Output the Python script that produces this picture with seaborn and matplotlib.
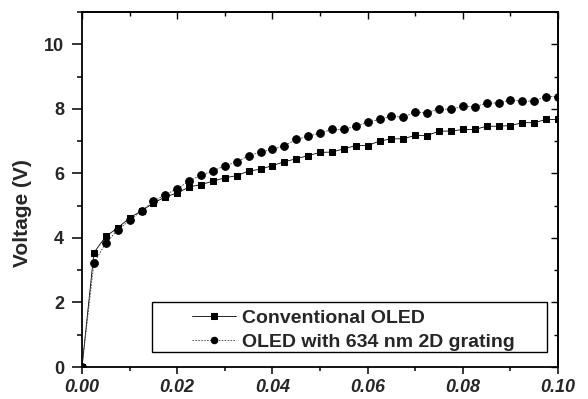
import matplotlib
matplotlib.use("Agg")
import matplotlib.pyplot as plt
import seaborn as sns
import pandas as pd
from matplotlib.ticker import MultipleLocator
from matplotlib.patches import Rectangle

current_density = [0.0, 0.0025, 0.005, 0.0075, 0.01, 0.0125, 0.015, 0.0175, 0.02, 0.0225,
                   0.025, 0.0275, 0.03, 0.0325, 0.035, 0.0375, 0.04, 0.0425, 0.045, 0.0475,
                   0.05, 0.0525, 0.055, 0.0575, 0.06, 0.0625, 0.065, 0.0675, 0.07, 0.0725,
                   0.075, 0.0775, 0.08, 0.0825, 0.085, 0.0875, 0.09, 0.0925, 0.095, 0.0975, 0.1]
voltage_conventional = [0.0, 3.54, 4.05, 4.31, 4.62, 4.84, 5.08, 5.27, 5.39, 5.58,
                        5.65, 5.76, 5.86, 5.93, 6.07, 6.13, 6.24, 6.36, 6.45, 6.55,
                        6.65, 6.66, 6.76, 6.86, 6.86, 7.00, 7.07, 7.07, 7.18, 7.17,
                        7.31, 7.31, 7.36, 7.36, 7.46, 7.46, 7.48, 7.57, 7.57, 7.67, 7.67]
voltage_grating = [0.0, 3.22, 3.84, 4.25, 4.54, 4.84, 5.13, 5.34, 5.52, 5.76,
                   5.95, 6.07, 6.24, 6.35, 6.55, 6.66, 6.74, 6.86, 7.05, 7.15,
                   7.25, 7.36, 7.36, 7.46, 7.59, 7.67, 7.77, 7.74, 7.90, 7.88,
                   8.00, 7.98, 8.08, 8.06, 8.18, 8.18, 8.27, 8.24, 8.24, 8.38, 8.38]
series_names = ["Conventional OLED", "OLED with 634 nm 2D grating"]
x_ticks = [0.00, 0.02, 0.04, 0.06, 0.08, 0.10]
x_ticklabels = ["0.00", "0.02", "0.04", "0.06", "0.08", "0.10"]
y_ticks = [0, 2, 4, 6, 8, 10]

sns.set_theme(style="ticks")
plt.rcParams['font.family'] = ['Liberation Sans', 'DejaVu Sans']
plt.rcParams['font.weight'] = 'bold'

fig = plt.figure(figsize=(5.88, 3.99), dpi=100)
ax = fig.add_axes([82/588, 1 - 367/399, (558-82)/588, (367-12)/399])

df1 = pd.DataFrame({"x": current_density, "y": voltage_conventional})
df2 = pd.DataFrame({"x": current_density, "y": voltage_grating})

sns.lineplot(data=df1, x="x", y="y", ax=ax, color="black", linewidth=0.6,
             marker="s", markersize=5, markeredgecolor="black", markerfacecolor="black",
             label=series_names[0])
sns.lineplot(data=df2, x="x", y="y", ax=ax, color="#444444", linewidth=0.6, linestyle=(0, (2, 1.5)),
             marker="o", markersize=5.5, markeredgecolor="black", markerfacecolor="black",
             label=series_names[1])

ax.set_xlim(0, 0.1)
ax.set_ylim(0, 11)
ax.set_xticks(x_ticks)
ax.set_xticklabels(x_ticklabels, fontsize=13, fontweight="bold", fontstyle="italic")
ax.set_yticks(y_ticks)
ax.set_yticklabels([str(v) for v in y_ticks], fontsize=13, fontweight="bold")
ax.xaxis.set_minor_locator(MultipleLocator(0.01))
ax.yaxis.set_minor_locator(MultipleLocator(1))
ax.tick_params(which="both", direction="out", width=1.1, color="black")
ax.tick_params(axis="y", which="major", length=7, pad=6)
ax.tick_params(axis="y", which="minor", length=3.5)
ax.tick_params(axis="x", which="major", length=5, pad=4)
ax.tick_params(axis="x", which="minor", length=3)
for s in ax.spines.values():
    s.set_linewidth(1.3)
    s.set_color("black")

# inward ticks on top and right
top = ax.secondary_xaxis("top")
top.set_xticks(x_ticks)
top.xaxis.set_minor_locator(MultipleLocator(0.01))
top.tick_params(which="both", direction="in", labeltop=False, width=1.0, color="black")
top.tick_params(which="major", length=5)
top.tick_params(which="minor", length=3)
top.spines["top"].set_linewidth(1.3)
right = ax.secondary_yaxis("right")
right.set_yticks(y_ticks)
right.yaxis.set_minor_locator(MultipleLocator(1))
right.tick_params(which="both", direction="in", labelright=False, width=1.0, color="black")
right.tick_params(which="major", length=5)
right.tick_params(which="minor", length=3)
right.spines["right"].set_linewidth(1.3)

ax.set_xlabel("")
ax.set_ylabel("Voltage (V)", fontsize=15, fontweight="bold")
ax.yaxis.set_label_coords(-0.105, 0.434)

# legend box (Origin-style, wide left margin)
ax.add_patch(Rectangle((0.147, 0.042), 0.977 - 0.147, 0.183 - 0.042, transform=ax.transAxes,
                       fill=True, facecolor="white", edgecolor="black", linewidth=1.0, zorder=4))
leg = ax.legend(loc="lower left", bbox_to_anchor=(0.222, 0.035), frameon=False,
                fontsize=14, handlelength=2.3, borderpad=0.2, borderaxespad=0,
                labelspacing=0.3, handletextpad=0.3, markerscale=0.85)
leg.set_zorder(5)
for t in leg.get_texts():
    t.set_fontweight("bold")

fig.savefig("out.png", dpi=100)
